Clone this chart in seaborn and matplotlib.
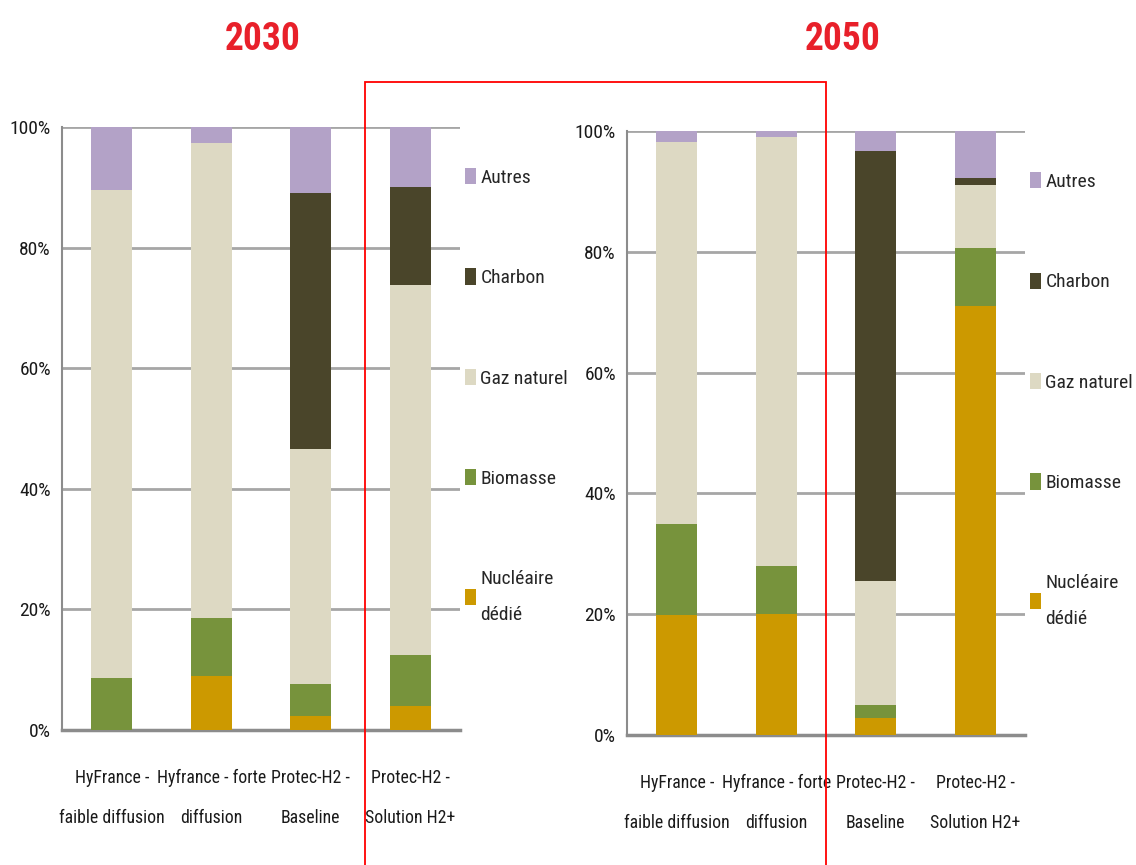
import seaborn as sns
import matplotlib.pyplot as plt
from matplotlib import font_manager
from matplotlib.patches import Patch, Rectangle
from matplotlib.ticker import PercentFormatter, FixedLocator

# categories (same for both years)
scenarios = ["HyFrance -\nfaible diffusion", "Hyfrance - forte\ndiffusion",
             "Protec-H2 -\nBaseline", "Protec-H2 -\nSolution H2+"]

sources = ["Nucléaire\ndédié", "Biomasse", "Gaz naturel", "Charbon", "Autres"]
colors = ["#CC9900", "#77933C", "#DDD9C3", "#4A452A", "#B3A2C7"]

# shares in %, bottom to top
nucleaire_2030 = [0.0, 8.9, 2.3, 3.9]
biomasse_2030 = [8.6, 9.7, 5.4, 8.5]
gaz_2030 = [80.9, 78.8, 38.9, 61.4]
charbon_2030 = [0.0, 0.0, 42.5, 16.2]
autres_2030 = [10.5, 2.6, 10.9, 10.0]

nucleaire_2050 = [19.9, 20.0, 2.8, 71.1]
biomasse_2050 = [15.1, 7.9, 2.1, 9.5]
gaz_2050 = [63.1, 71.1, 20.6, 10.4]
charbon_2050 = [0.0, 0.0, 71.2, 1.3]
autres_2050 = [1.9, 1.0, 3.3, 7.7]

years = ["2030", "2050"]
data = {
    "2030": [nucleaire_2030, biomasse_2030, gaz_2030, charbon_2030, autres_2030],
    "2050": [nucleaire_2050, biomasse_2050, gaz_2050, charbon_2050, autres_2050],
}

sns.set_style("white")

# look for a narrow font (the original uses Calibri); fall back to Liberation Sans
installed = {f.name for f in font_manager.fontManager.ttflist}
condensed = {f.name for f in font_manager.fontManager.ttflist
             if f.stretch in ("condensed", "semi-condensed", "extra-condensed")}
narrow = None
for name in ["Liberation Sans Narrow", "DejaVu Sans Condensed", "Roboto Condensed",
             "Open Sans Condensed", "Noto Sans Condensed"]:
    if name in installed:
        narrow = name
        break
if narrow is None:
    for name in ["Noto Sans", "Open Sans", "Roboto", "DejaVu Sans"]:
        if name in condensed:
            narrow = name
            plt.rcParams['font.stretch'] = 'condensed'
            break

if narrow is not None:
    plt.rcParams['font.family'] = [narrow, 'DejaVu Sans']
    fs_tick, fs_cat, fs_leg, fs_title = 14, 12.8, 14, 27
else:
    plt.rcParams['font.family'] = ['Liberation Sans', 'DejaVu Sans']
    fs_tick, fs_cat, fs_leg, fs_title = 12.5, 10.5, 12, 26

fig = plt.figure(figsize=(11.36, 8.65), dpi=100)
W, H = 1136, 865

# axes boxes in pixels: left, right, top(100%), bottom(0%)
boxes = {"2030": (62, 460, 127, 730), "2050": (627, 1025, 131, 735)}
title_x = {"2030": 263, "2050": 843}

for year in years:
    x0, x1, yt, yb = boxes[year]
    ax = fig.add_axes([x0 / W, 1 - yb / H, (x1 - x0) / W, (yb - yt) / H])
    layers = data[year]

    # stacked bars: draw cumulative totals from the top layer down
    cum = []
    run = [0.0] * len(scenarios)
    for vals in layers:
        run = [r + v for r, v in zip(run, vals)]
        cum.append(list(run))
    for i in reversed(range(len(layers))):
        sns.barplot(x=scenarios, y=[c / 100 for c in cum[i]], color=colors[i],
                    saturation=1, width=0.41, linewidth=0, ax=ax, zorder=3)

    ax.set_xlim(-0.5, 3.5)
    ax.set_ylim(0, 1)
    ax.yaxis.set_major_formatter(PercentFormatter(1.0, decimals=0))
    ax.set_yticks([0, 0.2, 0.4, 0.6, 0.8, 1.0])
    ax.grid(axis="y", color="#a6a6a6", linewidth=2, zorder=0)
    ax.set_axisbelow(True)

    for s in ["top", "right"]:
        ax.spines[s].set_visible(False)
    ax.spines["left"].set_color("#8c8c8c")
    ax.spines["left"].set_linewidth(1.5)
    ax.spines["bottom"].set_color("#8c8c8c")
    ax.spines["bottom"].set_linewidth(2.5)

    ax.tick_params(axis="y", length=5, width=1.2, color="#8c8c8c",
                   labelsize=fs_tick, labelcolor="#1a1a1a", pad=3)
    ax.tick_params(axis="x", which="major", length=0, labelsize=fs_cat,
                   labelcolor="#1a1a1a", pad=28)
    ax.xaxis.set_minor_locator(FixedLocator([-0.5, 0.5, 1.5, 2.5, 3.5]))
    ax.tick_params(axis="x", which="minor", length=8, width=1.2,
                   color="#8c8c8c", direction="out")
    for lab in ax.get_xticklabels():
        lab.set_linespacing(2.6)
    ax.set_xlabel("")
    ax.set_ylabel("")

    handles = [Patch(facecolor=c, edgecolor="none") for c in colors]
    leg = ax.legend(handles[::-1], sources[::-1], loc="upper left",
                    bbox_to_anchor=(1.012, 0.932), frameon=False, fontsize=fs_leg,
                    handlelength=0.6, handleheight=0.9, handletextpad=0.2,
                    labelspacing=4.2, borderpad=0, borderaxespad=0)
    leg.get_texts()[-1].set_linespacing(2.3)

    fig.text(title_x[year] / W, 1 - 40 / H, year, ha="center", va="center",
             color="#e8202a", fontsize=fs_title, fontweight="bold")

# red frame around the 2030/2050 highlight
fig.patches.append(Rectangle((365 / W, -0.02), (826 - 365) / W, 0.02 + 1 - 82 / H,
                             transform=fig.transFigure, fill=False,
                             edgecolor="red", linewidth=1.3, zorder=10))

fig.savefig("out.png", dpi=100)
